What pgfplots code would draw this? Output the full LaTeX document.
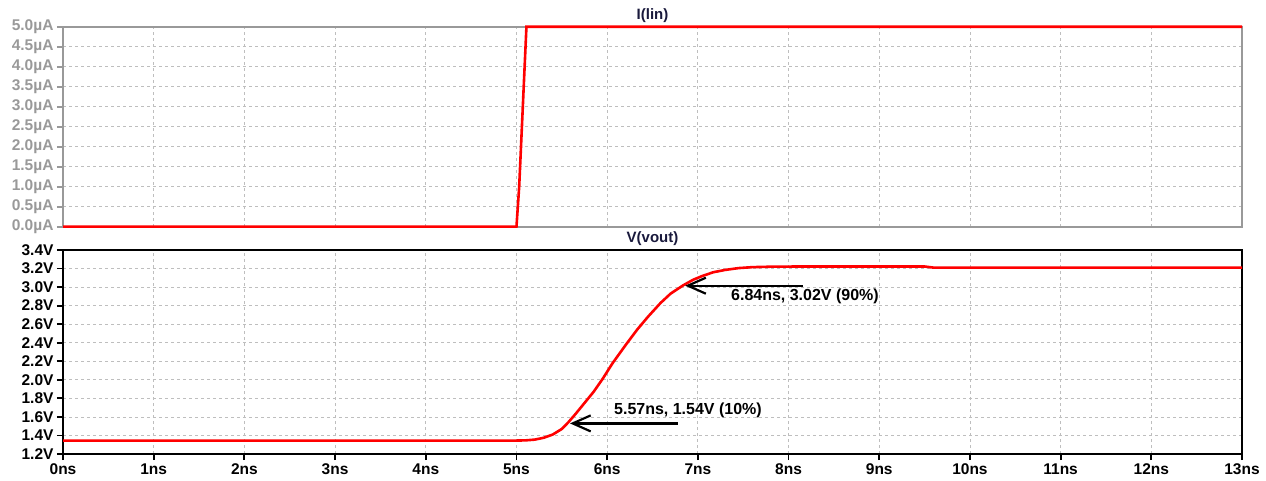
\documentclass[border=0pt]{standalone}
\usepackage{fontspec}
\setmainfont{Liberation Sans}
\usepackage{pgfplots}
\pgfplotsset{compat=1.18}
\usetikzlibrary{arrows.meta}
\definecolor{frameGray}{RGB}{153,153,153}
\definecolor{gridGray}{RGB}{190,190,190}
\definecolor{titleNavy}{RGB}{25,25,60}
\begin{document}
\begin{tikzpicture}
\path[use as bounding box] (0,0) rectangle (1266bp,-481bp);
\pgfplotsset{common/.style={
  scale only axis, width=1179bp, xmin=0, xmax=13, xtick={0,1,...,13},
  grid=major,
  major grid style={gridGray, line width=0.8bp, dash pattern=on 3bp off 3bp},
  tick align=outside, tick pos=left, major tick length=6bp,
  clip=false,
  /pgf/number format/assume math mode=true,
  ticklabel style={font=\fontsize{15.5bp}{18bp}\selectfont\bfseries},
  title style={font=\fontsize{15bp}{18bp}\selectfont\bfseries, at={(0.5,1)}, anchor=base, yshift=1.5bp, text=titleNavy},
}}
\begin{axis}[common, at={(63bp,-26.7bp)}, anchor=north west, height=200bp,
  ymin=0, ymax=5, ytick={0,0.5,1,1.5,2,2.5,3,3.5,4,4.5,5},
  yticklabels={0.0µA,0.5µA,1.0µA,1.5µA,2.0µA,2.5µA,3.0µA,3.5µA,4.0µA,4.5µA,5.0µA},
  xticklabels={}, xmajorticks=false,
  axis line style={frameGray, line width=2bp},
  major tick style={frameGray, line width=1.8bp},
  yticklabel style={text=frameGray},
  title={I(lin)}]
\addplot[red, line width=2.6bp] coordinates {(0,0) (5.0,0) (5.03,1) (5.06,2.5) (5.09,4) (5.11,5) (13,5)};
\end{axis}
\begin{axis}[common, at={(63bp,-250bp)}, anchor=north west, height=204bp,
  ymin=1.2, ymax=3.4, ytick={1.2,1.4,1.6,1.8,2.0,2.2,2.4,2.6,2.8,3.0,3.2,3.4},
  yticklabels={1.2V,1.4V,1.6V,1.8V,2.0V,2.2V,2.4V,2.6V,2.8V,3.0V,3.2V,3.4V},
  xticklabels={0ns,1ns,2ns,3ns,4ns,5ns,6ns,7ns,8ns,9ns,10ns,11ns,12ns,13ns},
  axis line style={black, line width=2bp},
  major tick style={black, line width=1.8bp},
  title={V(vout)}]
\addplot[red, line width=2.6bp, line join=round] coordinates {
 (0,1.345) (5.0,1.345) (5.1,1.347) (5.2,1.355) (5.3,1.375) (5.4,1.41) (5.5,1.47)
 (5.57,1.54) (5.65,1.63) (5.75,1.75) (5.85,1.87) (5.95,2.01) (6.06,2.18) (6.2,2.37)
 (6.33,2.54) (6.45,2.68) (6.59,2.83) (6.7,2.93) (6.84,3.02) (6.95,3.08) (7.05,3.12)
 (7.17,3.16) (7.3,3.185) (7.45,3.205) (7.6,3.215) (7.8,3.22) (8.1,3.222) (9.5,3.222)
 (9.6,3.21) (13,3.21)};
\draw[line width=2.2bp, -{Straight Barb[length=18bp,width=16bp]}] (axis cs:8.16,3.015) -- (axis cs:6.86,3.015);
\node[anchor=west, inner sep=0pt, font=\fontsize{16bp}{19bp}\selectfont\bfseries] at (axis cs:7.365,2.90) {6.84ns, 3.02V (90\%)};
\draw[line width=2.2bp, -{Straight Barb[length=18bp,width=16bp]}] (axis cs:6.78,1.53) -- (axis cs:5.59,1.53);
\node[anchor=west, inner sep=0pt, font=\fontsize{16bp}{19bp}\selectfont\bfseries] at (axis cs:6.075,1.675) {5.57ns, 1.54V (10\%)};
\end{axis}
\end{tikzpicture}
\end{document}
